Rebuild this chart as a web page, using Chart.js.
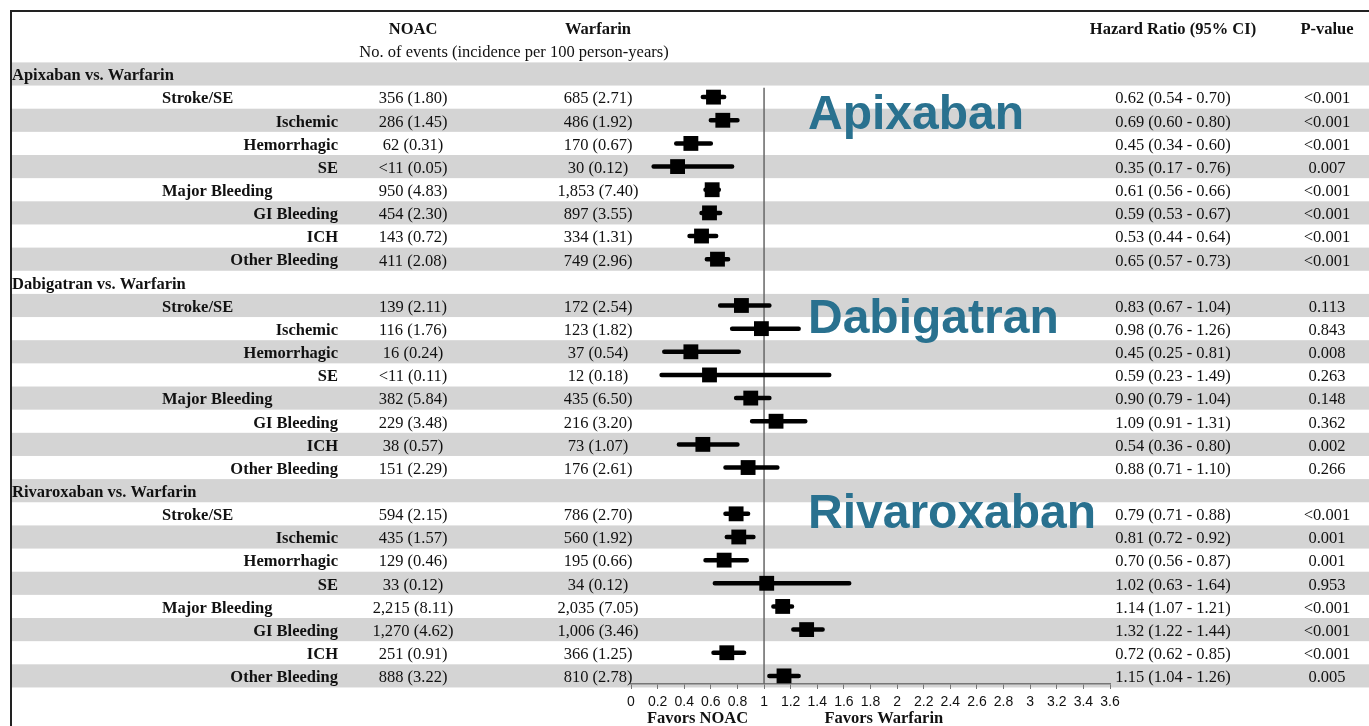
<!DOCTYPE html>
<html>
<head>
<meta charset="utf-8">
<title>NOAC vs Warfarin forest plot</title>
<script src="https://cdn.jsdelivr.net/npm/chart.js@4.4.1/dist/chart.umd.min.js"></script>
<style>
  html, body { margin: 0; padding: 0; background: #fff; }
  canvas { display: block; }
</style>
</head>
<body>
<canvas id="forestChart" width="1369" height="726"></canvas>
<script>
// =========================
// DATA
// =========================
const groups = ["Apixaban vs. Warfarin", "Dabigatran vs. Warfarin", "Rivaroxaban vs. Warfarin"];
const drugNames = ["Apixaban", "Dabigatran", "Rivaroxaban"];
const outcomes = ["Stroke/SE", "Ischemic", "Hemorrhagic", "SE", "Major Bleeding", "GI Bleeding", "ICH", "Other Bleeding"];
const mainOutcomes = ["Stroke/SE", "Major Bleeding"];

const noacEvents = [
  ["356 (1.80)", "286 (1.45)", "62 (0.31)", "<11 (0.05)", "950 (4.83)", "454 (2.30)", "143 (0.72)", "411 (2.08)"],
  ["139 (2.11)", "116 (1.76)", "16 (0.24)", "<11 (0.11)", "382 (5.84)", "229 (3.48)", "38 (0.57)", "151 (2.29)"],
  ["594 (2.15)", "435 (1.57)", "129 (0.46)", "33 (0.12)", "2,215 (8.11)", "1,270 (4.62)", "251 (0.91)", "888 (3.22)"],
];
const warfarinEvents = [
  ["685 (2.71)", "486 (1.92)", "170 (0.67)", "30 (0.12)", "1,853 (7.40)", "897 (3.55)", "334 (1.31)", "749 (2.96)"],
  ["172 (2.54)", "123 (1.82)", "37 (0.54)", "12 (0.18)", "435 (6.50)", "216 (3.20)", "73 (1.07)", "176 (2.61)"],
  ["786 (2.70)", "560 (1.92)", "195 (0.66)", "34 (0.12)", "2,035 (7.05)", "1,006 (3.46)", "366 (1.25)", "810 (2.78)"],
];
const hazardRatio = [
  [0.62, 0.69, 0.45, 0.35, 0.61, 0.59, 0.53, 0.65],
  [0.83, 0.98, 0.45, 0.59, 0.90, 1.09, 0.54, 0.88],
  [0.79, 0.81, 0.70, 1.02, 1.14, 1.32, 0.72, 1.15],
];
const ciLow = [
  [0.54, 0.60, 0.34, 0.17, 0.56, 0.53, 0.44, 0.57],
  [0.67, 0.76, 0.25, 0.23, 0.79, 0.91, 0.36, 0.71],
  [0.71, 0.72, 0.56, 0.63, 1.07, 1.22, 0.62, 1.04],
];
const ciHigh = [
  [0.70, 0.80, 0.60, 0.76, 0.66, 0.67, 0.64, 0.73],
  [1.04, 1.26, 0.81, 1.49, 1.04, 1.31, 0.80, 1.10],
  [0.88, 0.92, 0.87, 1.64, 1.21, 1.44, 0.85, 1.26],
];
const pValues = [
  ["<0.001", "<0.001", "<0.001", "0.007", "<0.001", "<0.001", "<0.001", "<0.001"],
  ["0.113", "0.843", "0.008", "0.263", "0.148", "0.362", "0.002", "0.266"],
  ["<0.001", "0.001", "0.001", "0.953", "<0.001", "<0.001", "<0.001", "0.005"],
];
const xTicksMax = 3.6;

// =========================
// ROWS (header + 8 outcomes per group)
// =========================
const rows = [];
groups.forEach((g, gi) => {
  rows.push({ type: "group", label: g, group: gi });
  outcomes.forEach((o, oi) => {
    rows.push({
      type: "item",
      label: o,
      group: gi,
      noac: noacEvents[gi][oi],
      warf: warfarinEvents[gi][oi],
      hr: hazardRatio[gi][oi],
      lo: ciLow[gi][oi],
      hi: ciHigh[gi][oi],
      p: pValues[gi][oi],
    });
  });
});

const squares = [];
const ciSegments = [];
rows.forEach((r, i) => {
  if (r.type !== "item") return;
  squares.push({ x: r.hr, y: i });
  ciSegments.push({ x: r.lo, y: i }, { x: r.hi, y: i }, { x: null, y: null });
});

// =========================
// STYLE
// =========================
const SERIF = '"Liberation Serif", "Times New Roman", serif';
const SANS = '"Liberation Sans", Arial, sans-serif';
const BAND = "#d4d4d4";
const BLUE = "#29718f";
const TXT_DY = 2; // baseline "middle" sits a bit high for Times

const COL_GROUP = 12;
const COL_MAIN = 162;
const COL_SUB = 338;
const COL_NOAC = 413;
const COL_WARF = 598;
const COL_HR = 1173;
const COL_P = 1327;

// =========================
// TABLE PLUGIN
// =========================
const tablePlugin = {
  id: "forestTable",
  beforeDraw(chart) {
    const { ctx } = chart;
    const y = chart.scales.y;
    ctx.save();
    ctx.fillStyle = "#fff";
    ctx.fillRect(0, 0, chart.width, chart.height);
    ctx.fillStyle = BAND;
    rows.forEach((r, i) => {
      if (i % 2 !== 0) return;
      const top = y.getPixelForValue(i - 0.5);
      const bot = y.getPixelForValue(i + 0.5);
      ctx.fillRect(12, top, chart.width - 12, bot - top);
    });
    ctx.restore();
  },
  beforeDatasetsDraw(chart) {
    const { ctx, chartArea } = chart;
    const x = chart.scales.x;
    const y = chart.scales.y;
    const px = x.getPixelForValue(1);
    ctx.save();
    ctx.strokeStyle = "#666";
    ctx.lineWidth = 1.5;
    ctx.beginPath();
    ctx.moveTo(px, y.getPixelForValue(0.6));
    ctx.lineTo(px, chartArea.bottom);
    ctx.stroke();
    ctx.restore();
  },
  afterDraw(chart) {
    const { ctx, chartArea } = chart;
    const x = chart.scales.x;
    const y = chart.scales.y;
    ctx.save();
    ctx.fillStyle = "#111";
    ctx.textBaseline = "middle";

    // column headers
    ctx.font = `bold 16.5px ${SERIF}`;
    ctx.textAlign = "center";
    const yHead = y.getPixelForValue(-2) + TXT_DY;
    ctx.fillText("NOAC", COL_NOAC, yHead);
    ctx.fillText("Warfarin", COL_WARF, yHead);
    ctx.fillText("Hazard Ratio (95% CI)", COL_HR, yHead);
    ctx.fillText("P-value", COL_P, yHead);
    ctx.font = `16.5px ${SERIF}`;
    ctx.fillText("No. of events (incidence per 100 person-years)", 514, y.getPixelForValue(-1) + TXT_DY);

    // rows
    rows.forEach((r, i) => {
      const py = y.getPixelForValue(i) + TXT_DY;
      if (r.type === "group") {
        ctx.font = `bold 16.5px ${SERIF}`;
        ctx.textAlign = "left";
        ctx.fillText(r.label, COL_GROUP, py);
        return;
      }
      ctx.font = `bold 16.5px ${SERIF}`;
      if (mainOutcomes.includes(r.label)) {
        ctx.textAlign = "left";
        ctx.fillText(r.label, COL_MAIN, py);
      } else {
        ctx.textAlign = "right";
        ctx.fillText(r.label, COL_SUB, py);
      }
      ctx.font = `16.5px ${SERIF}`;
      ctx.textAlign = "center";
      ctx.fillText(r.noac, COL_NOAC, py);
      ctx.fillText(r.warf, COL_WARF, py);
      ctx.fillText(`${r.hr.toFixed(2)} (${r.lo.toFixed(2)} - ${r.hi.toFixed(2)})`, COL_HR, py);
      ctx.fillText(r.p, COL_P, py);
    });

    // favors labels under the axis
    ctx.font = `bold 16.5px ${SERIF}`;
    ctx.textAlign = "center";
    ctx.fillText("Favors NOAC", x.getPixelForValue(0.5), chartArea.bottom + 35);
    ctx.fillText("Favors Warfarin", x.getPixelForValue(1.9), chartArea.bottom + 35);

    // big drug names
    ctx.font = `bold 48px ${SANS}`;
    ctx.fillStyle = BLUE;
    ctx.textAlign = "left";
    const namePos = [1.82, 10.6, 19.05];
    drugNames.forEach((n, gi) => {
      ctx.fillText(n, 808, y.getPixelForValue(namePos[gi]));
    });

    // frame
    ctx.strokeStyle = "#222";
    ctx.lineWidth = 2;
    ctx.beginPath();
    ctx.moveTo(11, chart.height);
    ctx.lineTo(11, 11);
    ctx.lineTo(chart.width, 11);
    ctx.stroke();
    ctx.restore();
  },
};

// =========================
// CHART
// =========================
const ctx = document.getElementById("forestChart").getContext("2d");

new Chart(ctx, {
  type: "scatter",
  data: {
    datasets: [
      {
        label: "95% CI",
        data: ciSegments,
        showLine: true,
        spanGaps: false,
        borderColor: "#000",
        borderWidth: 4.5,
        pointRadius: 0,
        borderCapStyle: "round",
      },
      {
        label: "Hazard Ratio",
        data: squares,
        pointStyle: "rect",
        pointRadius: 10.5,
        backgroundColor: "#000",
        borderWidth: 0,
      },
    ],
  },
  options: {
    responsive: false,
    animation: false,
    layout: { padding: { left: 631, right: 259, top: 11, bottom: 0 } },
    plugins: {
      legend: { display: false },
      tooltip: { enabled: false },
    },
    scales: {
      x: {
        type: "linear",
        min: 0,
        max: xTicksMax,
        afterFit: (scale) => {
          scale.height = 42;
        },
        border: { display: true, color: "#777", width: 1.5 },
        grid: { drawOnChartArea: false, drawTicks: true, tickLength: 5, color: "#777" },
        ticks: {
          stepSize: 0.2,
          autoSkip: false,
          maxRotation: 0,
          padding: 5,
          color: "#111",
          font: { family: SANS, size: 14 },
          callback: (v) => String(Math.round(v * 10) / 10),
        },
      },
      y: {
        type: "linear",
        display: false,
        reverse: true,
        min: -2.72,
        max: 26.35,
      },
    },
  },
  plugins: [tablePlugin],
});
</script>
</body>
</html>
